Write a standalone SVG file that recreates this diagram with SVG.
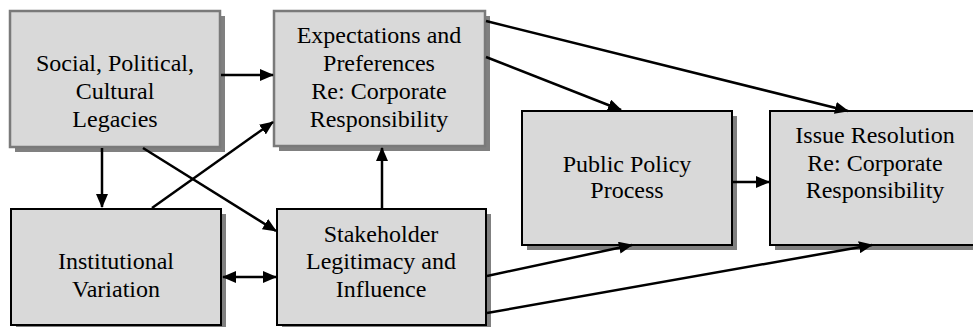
<svg xmlns="http://www.w3.org/2000/svg" width="973" height="327" viewBox="0 0 973 327">
<defs>
<marker id="ah" viewBox="0 0 14 12" refX="13" refY="6" markerWidth="14" markerHeight="12" markerUnits="userSpaceOnUse" orient="auto-start-reverse">
<path d="M0,0 L14,6 L0,12 Z" fill="#000"/>
</marker>
</defs>
<style>
.sh{fill:#808080}
.bx{fill:#d9d9d9;stroke:#000;stroke-width:2}
.bg{fill:#d9d9d9;stroke:#7a7a7a;stroke-width:2.5}
.t{font-family:"Liberation Serif","DejaVu Serif",serif;font-size:24px;fill:#000;text-anchor:middle}
.c line{stroke:#000;stroke-width:2.5;marker-end:url(#ah)}
</style>
<rect width="973" height="327" fill="#fff"/>
<g id="social">
<rect class="sh" x="15" y="16" width="210" height="136"/>
<rect class="bg" x="10" y="11" width="210" height="136"/>
<text class="t" x="115" y="71">Social, Political,</text>
<text class="t" x="115" y="99">Cultural</text>
<text class="t" x="115" y="127">Legacies</text>
</g>
<g id="expectations">
<rect class="sh" x="279" y="16" width="211" height="135"/>
<rect class="bg" x="274" y="11" width="211" height="135"/>
<text class="t" x="379" y="43">Expectations and</text>
<text class="t" x="379" y="71">Preferences</text>
<text class="t" x="379" y="99">Re: Corporate</text>
<text class="t" x="379" y="127">Responsibility</text>
</g>
<g id="institutional">
<rect class="sh" x="16" y="214" width="210" height="116"/>
<rect class="bx" x="11" y="209" width="210" height="116"/>
<text class="t" x="116" y="269">Institutional</text>
<text class="t" x="116" y="297">Variation</text>
</g>
<g id="stakeholder">
<rect class="sh" x="282" y="214" width="209" height="116"/>
<rect class="bx" x="277" y="209" width="209" height="116"/>
<text class="t" x="381" y="242">Stakeholder</text>
<text class="t" x="381" y="269">Legitimacy and</text>
<text class="t" x="381" y="297">Influence</text>
</g>
<g id="public">
<rect class="sh" x="527" y="116" width="210" height="134"/>
<rect class="bx" x="522" y="111" width="210" height="134"/>
<text class="t" x="627" y="172">Public Policy</text>
<text class="t" x="627" y="198">Process</text>
</g>
<g id="issue">
<rect class="sh" x="775" y="116" width="210" height="134"/>
<rect class="bx" x="770" y="111" width="210" height="134"/>
<text class="t" x="875" y="143">Issue Resolution</text>
<text class="t" x="875" y="171">Re: Corporate</text>
<text class="t" x="875" y="198">Responsibility</text>
</g>
<g id="connectors" class="c">
<line x1="221" y1="75" x2="273" y2="75"/>
<line x1="102" y1="148" x2="102" y2="207"/>
<line x1="143" y1="148" x2="276" y2="231"/>
<line x1="152" y1="208" x2="273" y2="122"/>
<line x1="382" y1="209" x2="382" y2="148"/>
<line x1="223" y1="277" x2="276" y2="277" marker-start="url(#ah)"/>
<line x1="486" y1="57" x2="621" y2="110"/>
<line x1="486" y1="21" x2="848" y2="111"/>
<line x1="733" y1="182" x2="769" y2="182"/>
<line x1="487" y1="276" x2="632" y2="245"/>
<line x1="487" y1="313" x2="872" y2="245"/>
</g>
</svg>
